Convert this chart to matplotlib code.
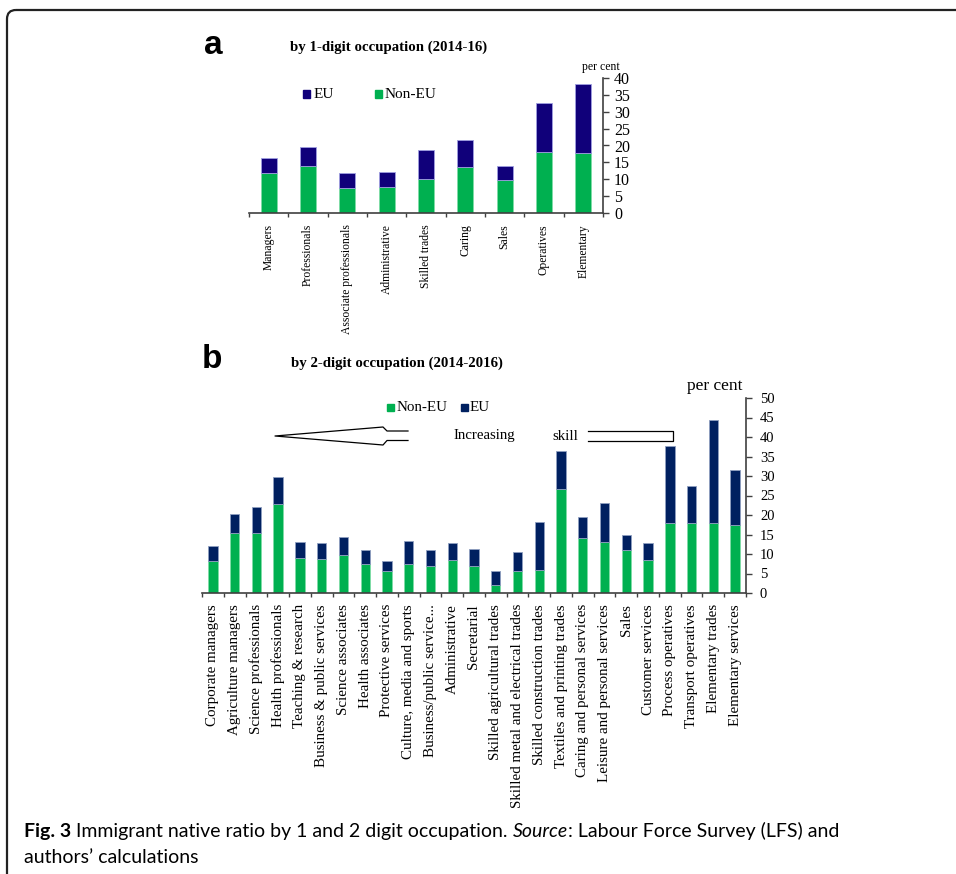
import matplotlib
matplotlib.use('Agg')
import matplotlib.pyplot as plt
from matplotlib.patches import FancyBboxPatch, Rectangle
import numpy as np

# ---------------- data ----------------
occ1_labels = ["Managers", "Professionals", "Associate professionals", "Administrative",
               "Skilled trades", "Caring", "Sales", "Operatives", "Elementary"]
occ1_nonEU = [11.9, 14.0, 7.5, 7.8, 10.2, 13.7, 9.8, 18.1, 17.8]
occ1_EU = [4.5, 5.6, 4.3, 4.3, 8.5, 7.8, 4.1, 14.6, 20.4]

occ2_labels = ["Corporate managers", "Agriculture managers", "Science professionals",
               "Health professionals", "Teaching & research", "Business & public services",
               "Science associates", "Health associates", "Protective services",
               "Culture, media and sports", "Business/public service...", "Administrative",
               "Secretarial", "Skilled agricultural trades", "Skilled metal and electrical trades",
               "Skilled construction trades", "Textiles and printing trades",
               "Caring and personal services", "Leisure and personal services", "Sales",
               "Customer services", "Process operatives", "Transport operatives",
               "Elementary trades", "Elementary services"]
occ2_nonEU = [8.3, 15.4, 15.3, 22.7, 8.9, 8.8, 9.8, 7.5, 5.6, 7.5, 6.8, 8.4, 6.8, 2.0,
              5.7, 6.0, 26.6, 14.0, 13.2, 10.9, 8.4, 17.9, 18.0, 17.9, 17.4]
occ2_EU = [3.8, 4.9, 6.8, 7.0, 4.3, 4.0, 4.5, 3.4, 2.7, 5.9, 4.2, 4.4, 4.5, 3.6,
           4.7, 12.1, 9.9, 5.6, 9.9, 4.1, 4.3, 19.7, 9.4, 26.5, 14.1]

yticks_a = list(range(0, 41, 5))
yticks_b = list(range(0, 51, 5))

# ---------------- style ----------------
W, H = 956, 874
SERIF = "Liberation Serif"
GREEN = "#00B050"
NAVY_A = "#10007A"
NAVY_B = "#002060"
AXC = "#404040"

fig = plt.figure(figsize=(W / 100, H / 100), dpi=100)
fig.patch.set_facecolor("white")


def px_axes(left, right, top, bottom):
    return fig.add_axes([left / W, 1 - bottom / H, (right - left) / W, (bottom - top) / H])


def style_axes(ax, n, ymax, yt, ylab_size, xlab_size, labels, ypad):
    ax.set_xlim(-0.5, n - 0.5)
    ax.set_ylim(0, ymax)
    for s in ["left", "top"]:
        ax.spines[s].set_visible(False)
    for s in ["right", "bottom"]:
        ax.spines[s].set_color(AXC)
        ax.spines[s].set_linewidth(1.2)
    ax.yaxis.tick_right()
    ax.set_yticks(yt)
    ax.set_yticklabels([str(v) for v in yt], fontfamily=SERIF, fontsize=ylab_size)
    ax.tick_params(axis="y", direction="out", length=4, width=1, color=AXC, pad=ypad)
    ax.set_xticks(np.arange(n))
    ax.set_xticklabels(labels, rotation=90, fontfamily=SERIF, fontsize=xlab_size,
                       va="top", ha="center")
    ax.tick_params(axis="x", which="major", length=0, pad=8)
    ax.set_xticks(np.arange(n + 1) - 0.5, minor=True)
    ax.tick_params(axis="x", which="minor", direction="out", length=3, width=1, color=AXC)
    ax.patch.set_alpha(0)


# ---------------- panel a ----------------
axa = px_axes(249, 603, 78, 213)
xa = np.arange(len(occ1_labels))
axa.bar(xa, occ1_nonEU, width=0.4, color=GREEN, edgecolor="#7fdca6", linewidth=0.6, zorder=2)
axa.bar(xa, occ1_EU, bottom=occ1_nonEU, width=0.4, color=NAVY_A, edgecolor="#9f9fe0",
        linewidth=0.6, zorder=2)
style_axes(axa, len(occ1_labels), 40, yticks_a, 11.5, 8.4, occ1_labels, 4)

# ---------------- panel b ----------------
axb = px_axes(202, 746, 398, 593)
xb = np.arange(len(occ2_labels))
axb.bar(xb, occ2_nonEU, width=0.43, color=GREEN, edgecolor="#7fdca6", linewidth=0.6, zorder=2)
axb.bar(xb, occ2_EU, bottom=occ2_nonEU, width=0.43, color=NAVY_B, edgecolor="#8f9fc0",
        linewidth=0.6, zorder=2)
style_axes(axb, len(occ2_labels), 50, yticks_b, 10.5, 10.8, occ2_labels, 6)

# ---------------- overlay (pixel coordinates) ----------------
ov = fig.add_axes([0, 0, 1, 1])
ov.set_xlim(0, W)
ov.set_ylim(H, 0)
ov.axis("off")

# frame
ov.add_patch(FancyBboxPatch((7, 10), 1100, 1000, boxstyle="round,pad=0,rounding_size=9",
                            fill=False, edgecolor="#222222", linewidth=1.6, clip_on=True))

# panel letters and titles
ov.text(213, 45, "a", fontfamily="Liberation Sans", fontweight="bold", fontsize=24,
        ha="center", va="center")
ov.text(212, 360, "b", fontfamily="Liberation Sans", fontweight="bold", fontsize=24,
        ha="center", va="center")
ov.text(290, 47, "by 1-digit occupation (2014-16)", fontfamily=SERIF, fontweight="bold",
        fontsize=10.7, ha="left", va="center")
ov.text(291, 363, "by 2-digit occupation (2014-2016)", fontfamily=SERIF, fontweight="bold",
        fontsize=10.7, ha="left", va="center")
ov.text(601, 67, "per cent", fontfamily=SERIF, fontsize=8.5, ha="center", va="center")
ov.text(715, 386, "per cent", fontfamily=SERIF, fontsize=12.5, ha="center", va="center")

# legend a
ov.add_patch(Rectangle((303, 90), 7.5, 7.5, color=NAVY_A))
ov.text(314, 94, "EU", fontfamily=SERIF, fontsize=11, ha="left", va="center")
ov.add_patch(Rectangle((375, 90), 7.5, 7.5, color=GREEN))
ov.text(385, 94, "Non-EU", fontfamily=SERIF, fontsize=11, ha="left", va="center")

# legend b
ov.add_patch(Rectangle((387, 404), 7, 7, color=GREEN))
ov.text(397, 407.5, "Non-EU", fontfamily=SERIF, fontsize=10.8, ha="left", va="center")
ov.add_patch(Rectangle((461, 404), 7, 7, color=NAVY_B))
ov.text(470, 407.5, "EU", fontfamily=SERIF, fontsize=10.8, ha="left", va="center")

# skill arrows
ov.plot([408, 387, 383, 275, 383, 387, 408],
        [431, 431, 427, 436, 445, 440.5, 440.5], color="black", lw=0.9)
ov.plot([588, 673, 673, 588], [431, 431, 441, 441], color="black", lw=0.9)
ov.text(484, 436, "Increasing", fontfamily=SERIF, fontsize=10.7, ha="center", va="center")
ov.text(565, 436, "skill", fontfamily=SERIF, fontsize=10.7, ha="center", va="center")

# caption
CAP = "Lato"
cs = 14
fig.canvas.draw()
rend = fig.canvas.get_renderer()


def seq(x, y, parts):
    for txt, kw in parts:
        t = ov.text(x, y, txt, fontfamily=CAP, fontsize=cs, ha="left", va="baseline", **kw)
        bb = t.get_window_extent(renderer=rend)
        x += bb.width
    return x


seq(24, 837, [("Fig. 3", dict(fontweight="bold")),
              (" Immigrant native ratio by 1 and 2 digit occupation. ", {}),
              ("Source", dict(style="italic")),
              (": Labour Force Survey (LFS) and", {})])
seq(24, 863, [("authors\u2019 calculations", {})])

fig.savefig("out.png", dpi=100)
